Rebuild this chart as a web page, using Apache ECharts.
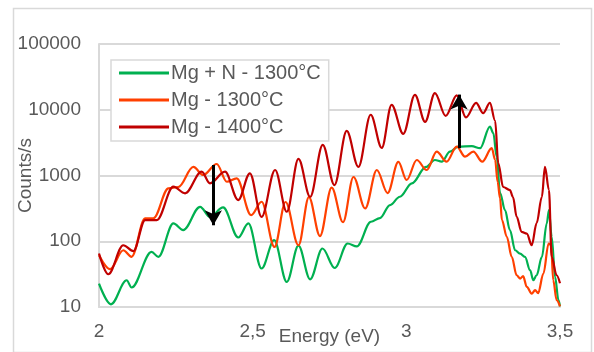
<!DOCTYPE html>
<html lang="en">
<head>
  <meta charset="UTF-8">
  <title>Counts/s vs Energy</title>
  <style>
    html, body { margin: 0; padding: 0; background: #fff; }
    #main { width: 594px; height: 352px; }
  </style>
</head>
<body>
  <div id="main"></div>

  <script src="https://cdn.jsdelivr.net/npm/echarts@6/dist/echarts.min.js"></script>

  <script>
    var names = ['Mg + N - 1300°C', 'Mg - 1300°C', 'Mg - 1400°C']
    var colors = ['#00b050', '#ff4000', '#c00000']

    // Mg + N - 1300°C
    var greenE = [2.000, 2.039, 2.090, 2.106, 2.171, 2.193, 2.242, 2.274, 2.329, 2.361, 2.404, 2.453, 2.486,
      2.529, 2.570, 2.611, 2.649, 2.687, 2.727, 2.767, 2.809, 2.839, 2.885, 2.914, 2.947, 2.979, 3.018,
      3.064, 3.093, 3.115, 3.142, 3.169, 3.213, 3.240, 3.272, 3.283, 3.294, 3.305, 3.321, 3.337, 3.354,
      3.370, 3.386, 3.403, 3.413, 3.424, 3.441, 3.457, 3.464, 3.473, 3.484, 3.495, 3.500]
    var greenY = [22.7, 11, 25.5, 19.8, 68.9, 57.8, 187, 148, 334, 235, 327, 114, 187,
      38.5, 104, 24, 85.7, 26.4, 77.6, 39.2, 92.5, 83.4, 198, 225, 355, 475, 760,
      1350, 1722, 1622, 2307, 2748, 2800, 2600, 5545, 4400, 1936, 541, 298, 148, 73,
      65, 57.8, 36, 25.5, 30.4, 57.8, 187, 298, 117, 28.7, 12.7, 10.2]

    // Mg - 1300°C
    var orangeE = [2.000, 2.036, 2.079, 2.106, 2.150, 2.177, 2.226, 2.258, 2.307, 2.339, 2.383, 2.416, 2.448,
      2.495, 2.529, 2.571, 2.607, 2.649, 2.683, 2.719, 2.757, 2.794, 2.828, 2.866, 2.904, 2.939, 2.974,
      3.001, 3.034, 3.066, 3.099, 3.131, 3.164, 3.191, 3.218, 3.247, 3.278, 3.289, 3.297, 3.305, 3.311,
      3.327, 3.343, 3.359, 3.370, 3.380, 3.392, 3.408, 3.419, 3.429, 3.446, 3.463, 3.471, 3.478, 3.489, 3.500]
    var orangeY = [61, 37.6, 73, 58, 223, 223, 638, 668, 1350, 1018, 1497, 804, 906,
      250, 399, 82, 395, 87, 470, 120, 656, 195, 949, 316, 1213, 541, 1607,
      855, 1722, 1213, 2307, 1622, 2748, 1936, 2307, 1622, 2600, 1722, 800, 450, 210,
      117, 57.8, 30.4, 27.1, 29.4, 20.2, 16, 18, 16.3, 32.3, 92.5, 87, 25.5, 12.7, 10.2]

    // Mg - 1400°C
    var redE = [2.000, 2.030, 2.079, 2.112, 2.150, 2.188, 2.242, 2.280, 2.334, 2.361, 2.410, 2.453, 2.491,
      2.529, 2.573, 2.611, 2.649, 2.687, 2.728, 2.766, 2.806, 2.844, 2.884, 2.920, 2.952, 2.990, 3.028,
      3.061, 3.093, 3.128, 3.164, 3.194, 3.227, 3.250, 3.272, 3.289, 3.299, 3.315, 3.337, 3.347, 3.359,
      3.375, 3.392, 3.408, 3.424, 3.441, 3.451, 3.464, 3.473, 3.489, 3.500]
    var redY = [65, 31.5, 87, 71, 210, 210, 675, 536, 1143, 760, 1143, 423, 1081,
      235, 1213, 281, 1786, 475, 2924, 716, 4760, 1350, 8390, 2624, 11890, 4300, 16870,
      6560, 17900, 8070, 16600, 7650, 12740, 8870, 12700, 6780, 1550, 668, 601, 470, 235,
      139, 131, 87, 189, 475, 1350, 601, 57.8, 30.4, 23]

    // arrows: [energy, counts] start -> end
    var arrowDown = [[2.372, 1446], [2.372, 175]]
    var arrowUp = [[3.1715, 2600], [3.1715, 17000]]

    function zip(xs, ys) {
      return xs.map(function (x, i) { return [x, ys[i]] })
    }

    var allData = [zip(greenE, greenY), zip(orangeE, orangeY), zip(redE, redY)]

    var myChart = echarts.init(document.getElementById('main'))

    var series = names.map(function (n, i) {
      return {
        name: n,
        type: 'line',
        data: allData[i],
        smooth: 0.35,
        smoothMonotone: 'x',
        showSymbol: false,
        lineStyle: { color: colors[i], width: 2.2 },
        itemStyle: { color: colors[i] },
        z: 2 + i
      }
    })

    series[2].markLine = {
      silent: true,
      symbol: ['none', 'arrow'],
      symbolSize: [13, 15],
      label: { show: false },
      lineStyle: { color: '#000', width: 3, type: 'solid' },
      emphasis: { disabled: true },
      data: [
        [{ coord: arrowDown[0] }, { coord: arrowDown[1] }],
        [{ coord: arrowUp[0] }, { coord: arrowUp[1] }]
      ]
    }

    var options = {
      animation: false,
      textStyle: { fontFamily: 'Liberation Sans, Arial, sans-serif' },
      grid: { left: 99, right: 34, top: 44, bottom: 45, outerBoundsMode: 'none' },
      legend: {
        left: 111,
        top: 60,
        orient: 'vertical',
        icon: 'rect',
        itemWidth: 50,
        itemHeight: 3,
        itemGap: 7,
        padding: [3, 8, 4, 8],
        backgroundColor: '#fff',
        borderColor: '#d9d9d9',
        borderWidth: 1.5,
        textStyle: { color: '#595959', fontSize: 20, lineHeight: 20, padding: [0, 0, 0, -3] },
        data: names
      },
      xAxis: {
        type: 'value',
        min: 2,
        max: 3.5,
        interval: 0.5,
        name: 'Energy (eV)',
        nameLocation: 'middle',
        nameGap: 20,
        nameMoveOverlap: false,
        nameTextStyle: { color: '#595959', fontSize: 19 },
        axisLine: { show: true, lineStyle: { color: '#d9d9d9', width: 2 } },
        axisTick: { show: false },
        splitLine: { show: false },
        axisLabel: {
          color: '#595959',
          fontSize: 19,
          margin: 15,
          formatter: function (v) { return String(v).replace('.', ',') }
        }
      },
      yAxis: {
        type: 'log',
        logBase: 10,
        min: 10,
        max: 100000,
        name: 'Counts/s',
        nameLocation: 'middle',
        nameGap: 64,
        nameMoveOverlap: false,
        nameTextStyle: { color: '#595959', fontSize: 19 },
        axisLine: { show: true, lineStyle: { color: '#d9d9d9', width: 2 } },
        axisTick: { show: false },
        splitLine: { show: true, lineStyle: { color: '#d9d9d9', width: 2 } },
        axisLabel: {
          color: '#595959',
          fontSize: 19,
          margin: 18,
          formatter: function (v) { return String(Math.round(v)) }
        }
      },
      graphic: [{
        type: 'rect',
        left: 11,
        top: 6,
        shape: { width: 578, height: 344 },
        style: { fill: 'none', stroke: '#d9d9d9', lineWidth: 1.5 },
        silent: true,
        z: -1
      }],
      series: series
    }

    myChart.setOption(options)
  </script>
</body>
</html>
